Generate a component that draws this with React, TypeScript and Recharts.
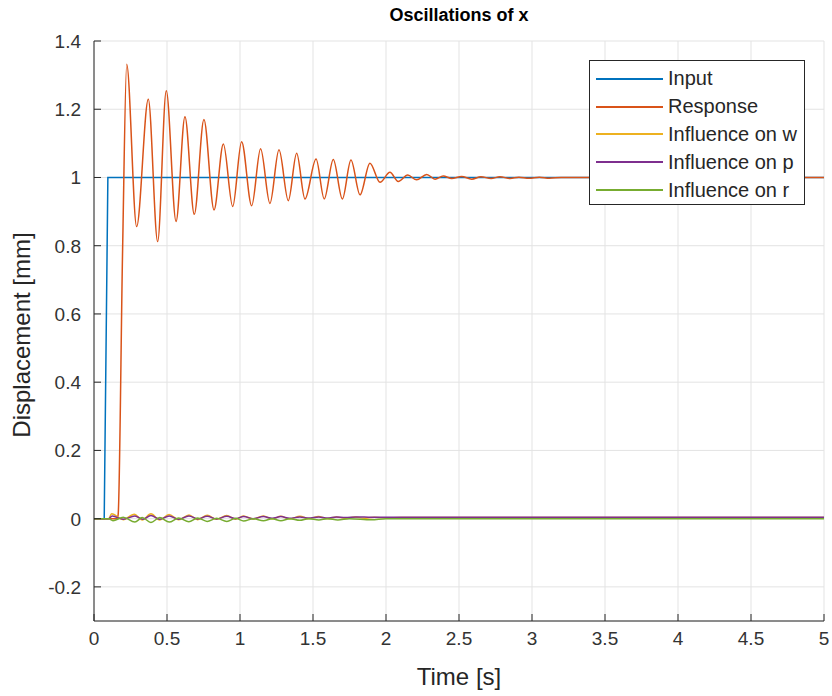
import {CartesianGrid, Legend, Line, LineChart, XAxis, YAxis} from 'recharts';

// values: [time s, displacement mm]
const inputPoints: [number, number][] = [
  [0, 0], [0.07, 0], [0.095, 1], [5, 1],
];

const responsePoints: [number, number][] = [
  [0, 0], [0.155, 0], [0.165, 0.01], [0.196, 0.79], [0.224, 1.332],
  [0.292, 0.856], [0.372, 1.229], [0.436, 0.812], [0.495, 1.254], [0.562, 0.871],
  [0.623, 1.178], [0.687, 0.892], [0.753, 1.17], [0.822, 0.905], [0.886, 1.098],
  [0.95, 0.915], [1.011, 1.105], [1.08, 0.917], [1.141, 1.084], [1.205, 0.924],
  [1.267, 1.081], [1.331, 0.932], [1.388, 1.071], [1.445, 0.937], [1.521, 1.054],
  [1.577, 0.937], [1.639, 1.053], [1.701, 0.937], [1.76, 1.051], [1.822, 0.949],
  [1.89, 1.042], [1.959, 0.986], [2.027, 1.015], [2.084, 0.988], [2.149, 1.007],
  [2.21, 0.993], [2.279, 1.009], [2.336, 0.995], [2.392, 1.004], [2.45, 0.997],
  [2.518, 1.003], [2.587, 0.995], [2.65, 1.002], [2.72, 0.997], [2.78, 1.002],
  [2.85, 0.997], [2.91, 1.001], [2.98, 0.998], [3.05, 1.001], [3.12, 0.998],
  [3.2, 1], [5, 1],
];

const influenceWPoints: [number, number][] = [
  [0, 0], [0.1, 0], [0.121, 0.014], [0.2, -0.003], [0.276, 0.013], [0.33, -0.004],
  [0.39, 0.014], [0.45, -0.004], [0.514, 0.012], [0.58, -0.003], [0.651, 0.011],
  [0.71, -0.003], [0.776, 0.01], [0.84, -0.002], [0.909, 0.009], [0.97, -0.002],
  [1.023, 0.008], [1.09, -0.001], [1.16, 0.008], [1.22, -0.001], [1.279, 0.007],
  [1.34, -0.001], [1.411, 0.007], [1.47, 0], [1.537, 0.006], [1.6, 0],
  [1.662, 0.005], [1.72, 0.001], [1.79, 0.005], [1.85, 0.001], [1.92, 0.004],
  [2.0, 0.002], [2.1, 0.003], [5, 0.003],
];

const influencePPoints: [number, number][] = [
  [0, 0], [0.1, 0], [0.125, 0.008], [0.2, -0.002], [0.28, 0.008], [0.335, -0.002],
  [0.39, 0.009], [0.45, -0.002], [0.515, 0.008], [0.58, -0.002], [0.65, 0.008],
  [0.71, -0.001], [0.775, 0.007], [0.84, -0.001], [0.91, 0.007], [0.97, 0],
  [1.025, 0.006], [1.09, 0], [1.16, 0.006], [1.22, 0.001], [1.28, 0.006],
  [1.34, 0.001], [1.41, 0.005], [1.47, 0.002], [1.54, 0.005], [1.6, 0.002],
  [1.66, 0.005], [1.72, 0.003], [1.8, 0.005], [1.9, 0.004], [5, 0.004],
];

const influenceRPoints: [number, number][] = [
  [0, 0], [0.1, 0], [0.13, -0.006], [0.2, 0.004], [0.28, -0.01], [0.33, 0.003],
  [0.39, -0.011], [0.45, 0.003], [0.515, -0.01], [0.58, 0.002], [0.65, -0.009],
  [0.71, 0.002], [0.775, -0.008], [0.84, 0.001], [0.91, -0.008], [0.97, 0.001],
  [1.025, -0.007], [1.09, 0], [1.16, -0.006], [1.22, 0], [1.28, -0.006],
  [1.34, 0], [1.41, -0.005], [1.47, 0], [1.54, -0.004], [1.6, 0],
  [1.67, -0.004], [1.75, 0], [1.9, -0.003], [2.0, 0], [5, 0],
];

const seriesNames = ['Input', 'Response', 'Influence on w', 'Influence on p', 'Influence on r'];
const seriesPoints = [inputPoints, responsePoints, influenceWPoints, influencePPoints, influenceRPoints];
const COLORS = ['#0072BD', '#D95319', '#EDB120', '#7E2F8E', '#77AC30'];

const xTicks = [0, 0.5, 1, 1.5, 2, 2.5, 3, 3.5, 4, 4.5, 5];
const yTicks = [-0.2, 0, 0.2, 0.4, 0.6, 0.8, 1, 1.2, 1.4];

const FONT = '"Liberation Sans", Arial, Helvetica, sans-serif';
const AXIS_COLOR = '#262626';

const toRows = (pts: [number, number][]) => pts.map(([t, v]) => ({t, v}));

function XTick({x, y, payload}: any) {
  return (
    <g>
      <line x1={x} x2={x} y1={y} y2={y - 7} stroke={AXIS_COLOR} />
      <text x={x} y={y + 24} textAnchor="middle" fontSize={19} fontFamily={FONT} fill="#333">
        {String(payload.value)}
      </text>
    </g>
  );
}

function YTick({x, y, payload}: any) {
  return (
    <g>
      <line x1={x} x2={x + 7} y1={y} y2={y} stroke={AXIS_COLOR} />
      <text x={x - 13} y={y + 7} textAnchor="end" fontSize={19} fontFamily={FONT} fill="#333">
        {String(payload.value)}
      </text>
    </g>
  );
}

function LegendBox() {
  return (
    <div
      style={{
        width: 214,
        height: 139,
        border: `1px solid ${AXIS_COLOR}`,
        background: '#fff',
        boxSizing: 'content-box',
        paddingTop: 4,
      }}
    >
      {seriesNames.map((name, i) => (
        <div key={name} style={{display: 'flex', alignItems: 'center', height: 27.8}}>
          <div style={{width: 67, height: 2, background: COLORS[i], marginLeft: 6, marginRight: 5, flex: 'none'}} />
          <span style={{fontFamily: FONT, fontSize: 20, color: '#262626', whiteSpace: 'nowrap'}}>{name}</span>
        </div>
      ))}
    </div>
  );
}

export default function App() {
  return (
    <div style={{position: 'absolute', left: 0, top: 0, width: 832, height: 696, background: '#fff'}}>
      <LineChart width={832} height={696} margin={{top: 41, right: 8, left: 34, bottom: 45}}>
        <CartesianGrid stroke="#e3e3e3" />
        <XAxis
          dataKey="t"
          type="number"
          domain={[0, 5]}
          ticks={xTicks}
          interval={0}
          height={30}
          tickSize={0}
          tickMargin={0}
          tick={<XTick />}
          axisLine={{stroke: AXIS_COLOR}}
          allowDuplicatedCategory={false}
        />
        <YAxis
          type="number"
          domain={[-0.3, 1.4]}
          ticks={yTicks}
          interval={0}
          width={60}
          tickSize={0}
          tickMargin={0}
          tick={<YTick />}
          axisLine={{stroke: AXIS_COLOR}}
        />
        {seriesNames.map((name, i) => (
          <Line
            key={name}
            name={name}
            data={toRows(seriesPoints[i])}
            dataKey="v"
            type={i === 0 ? 'linear' : 'monotone'}
            stroke={COLORS[i]}
            strokeWidth={1.5}
            dot={false}
            activeDot={false}
            isAnimationActive={false}
          />
        ))}
        <Legend
          layout="vertical"
          align="center"
          verticalAlign="middle"
          wrapperStyle={{left: 589, top: 60, width: 'auto', height: 'auto'}}
          content={() => <LegendBox />}
        />
      </LineChart>
      <div
        style={{
          position: 'absolute', left: 0, top: 5, width: 918, textAlign: 'center',
          fontFamily: FONT, fontWeight: 'bold', fontSize: 18, color: '#000',
        }}
      >
        Oscillations of x
      </div>
      <div
        style={{
          position: 'absolute', left: 0, top: 663, width: 918, textAlign: 'center',
          fontFamily: FONT, fontSize: 24, color: '#262626',
        }}
      >
        Time [s]
      </div>
      <div
        style={{
          position: 'absolute', left: 22, top: 335, transform: 'translate(-50%, -50%) rotate(-90deg)',
          fontFamily: FONT, fontSize: 24, color: '#262626', whiteSpace: 'nowrap',
        }}
      >
        Displacement [mm]
      </div>
    </div>
  );
}
